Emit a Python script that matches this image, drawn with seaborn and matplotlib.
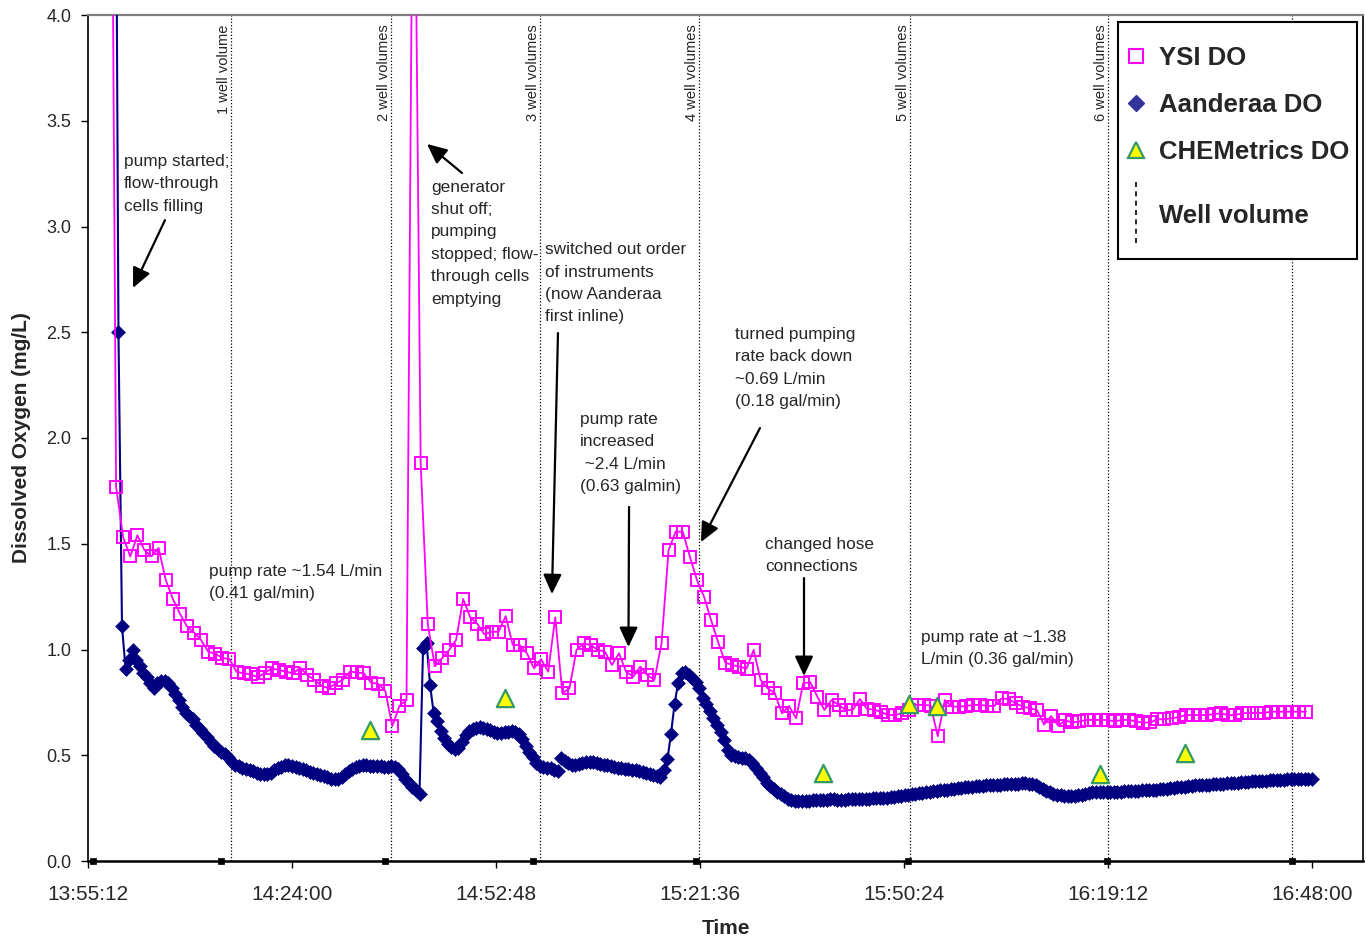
import numpy as np
import pandas as pd
import matplotlib
matplotlib.use("Agg")
import matplotlib.pyplot as plt
import matplotlib.dates as mdates
from matplotlib.lines import Line2D
from matplotlib.legend_handler import HandlerBase
import seaborn as sns

DAY = "2008-06-10 "

# YSI sonde dissolved oxygen, one reading per minute (mg/L)
ysi_start = "13:58:10"
ysi_do = [
    7.0, 1.77, 1.53, 1.44, 1.54, 1.47, 1.44, 1.48, 1.33, 1.24,
    1.17, 1.11, 1.08, 1.045, 0.99, 0.98, 0.96, 0.955, 0.895, 0.887,
    0.883, 0.868, 0.89, 0.911, 0.903, 0.895, 0.887, 0.914, 0.879, 0.856,
    0.829, 0.816, 0.84, 0.856, 0.895, 0.892, 0.887, 0.843, 0.838, 0.804,
    0.638, 0.734, 0.76, 5.4, 1.88, 1.12, 0.92, 0.958, 0.997, 1.045,
    1.239, 1.152, 1.121, 1.072, 1.084, 1.084, 1.158, 1.021, 1.021, 0.982,
    0.911, 0.954, 0.895, 1.152, 0.793, 0.816, 0.998, 1.029, 1.021, 0.998,
    0.99, 0.927, 0.982, 0.895, 0.871, 0.919, 0.879, 0.856, 1.029, 1.47,
    1.557, 1.557, 1.439, 1.329, 1.25, 1.139, 1.034, 0.938, 0.927, 0.919,
    0.91, 0.998, 0.856, 0.816, 0.793, 0.698, 0.733, 0.675, 0.84, 0.845,
    0.777, 0.714, 0.761, 0.738, 0.714, 0.714, 0.766, 0.719, 0.716, 0.705,
    0.69, 0.69, 0.70, 0.714, 0.738, 0.738, 0.735, 0.59, 0.761, 0.73,
    0.73, 0.733, 0.738, 0.738, 0.733, 0.733, 0.769, 0.765, 0.745, 0.73,
    0.722, 0.714, 0.645, 0.685, 0.64, 0.665, 0.655, 0.66, 0.667, 0.667,
    0.667, 0.667, 0.66, 0.667, 0.667, 0.66, 0.654, 0.655, 0.67, 0.67,
    0.675, 0.68, 0.69, 0.69, 0.69, 0.69, 0.695, 0.698, 0.69, 0.69,
    0.698, 0.70, 0.70, 0.70, 0.706, 0.706, 0.706, 0.706, 0.706, 0.706,
]

# Aanderaa optode dissolved oxygen, one reading every 30 s, two logging runs
aanderaa_run1_start = "13:59:00"
aanderaa_run1 = [
    5.8, 2.50, 1.11, 0.91, 0.95, 1.00, 0.95, 0.92, 0.89, 0.87,
    0.84, 0.82, 0.84, 0.85, 0.85, 0.84, 0.82, 0.79, 0.76, 0.73,
    0.70, 0.685, 0.67, 0.645, 0.625, 0.605, 0.585, 0.565, 0.545, 0.53,
    0.515, 0.505, 0.49, 0.47, 0.455, 0.447, 0.44, 0.435, 0.43, 0.425,
    0.415, 0.41, 0.41, 0.41, 0.415, 0.43, 0.44, 0.445, 0.452, 0.452,
    0.45, 0.446, 0.44, 0.435, 0.43, 0.42, 0.415, 0.41, 0.405, 0.40,
    0.395, 0.39, 0.39, 0.39, 0.395, 0.41, 0.425, 0.435, 0.445, 0.45,
    0.452, 0.454, 0.45, 0.45, 0.448, 0.448, 0.445, 0.445, 0.447, 0.446,
    0.435, 0.41, 0.39, 0.37, 0.35, 0.335, 0.315, 1.005, 1.03, 0.83,
    0.70, 0.66, 0.615, 0.58, 0.555, 0.54, 0.53, 0.535, 0.565, 0.595,
    0.615, 0.625, 0.63, 0.632, 0.628, 0.622, 0.618, 0.612, 0.605, 0.605,
    0.61, 0.612, 0.615, 0.61, 0.60, 0.575, 0.545, 0.515, 0.49, 0.465,
    0.45, 0.445, 0.442, 0.438, 0.432, 0.425,
]
aanderaa_run2_start = "15:02:00"
aanderaa_run2 = [
    0.485, 0.475, 0.465, 0.455, 0.452, 0.458, 0.462, 0.466, 0.468, 0.468,
    0.465, 0.46, 0.456, 0.452, 0.448, 0.445, 0.44, 0.438, 0.436, 0.434,
    0.432, 0.43, 0.425, 0.42, 0.415, 0.41, 0.405, 0.40, 0.398, 0.43,
    0.48, 0.60, 0.74, 0.84, 0.89, 0.895, 0.88, 0.865, 0.845, 0.82,
    0.77, 0.74, 0.71, 0.675, 0.645, 0.61, 0.57, 0.525, 0.50, 0.495,
    0.49, 0.488, 0.485, 0.478, 0.465, 0.44, 0.415, 0.395, 0.37, 0.355,
    0.34, 0.325, 0.315, 0.305, 0.295, 0.288, 0.285, 0.283, 0.283, 0.284,
    0.285, 0.287, 0.288, 0.29,
    0.29, 0.29, 0.292, 0.292, 0.29, 0.29, 0.29, 0.291, 0.292, 0.293,
    0.293, 0.294, 0.294, 0.295, 0.296, 0.297, 0.298, 0.30, 0.30, 0.302,
    0.303, 0.305, 0.307, 0.31, 0.312, 0.315, 0.318, 0.32, 0.322, 0.325,
    0.327, 0.33, 0.332, 0.334, 0.336, 0.338, 0.34, 0.342, 0.344, 0.346,
    0.348, 0.35, 0.351, 0.353, 0.355, 0.356, 0.357, 0.358, 0.359, 0.36,
    0.361, 0.362, 0.363, 0.364, 0.365, 0.366, 0.367, 0.367, 0.366, 0.364,
    0.36, 0.352, 0.342, 0.333, 0.325, 0.318, 0.313, 0.31, 0.308, 0.307,
    0.307, 0.308, 0.31, 0.313, 0.318, 0.322, 0.325, 0.326, 0.326, 0.327,
    0.327, 0.327, 0.327, 0.328, 0.328, 0.329, 0.33, 0.331, 0.332, 0.333,
    0.334, 0.335, 0.336, 0.337, 0.338, 0.339, 0.34, 0.342, 0.344, 0.346,
    0.348, 0.35, 0.352, 0.354, 0.356, 0.357, 0.358, 0.359, 0.36, 0.361,
    0.362, 0.363, 0.364, 0.366, 0.367, 0.368, 0.369, 0.37, 0.372, 0.373,
    0.375, 0.376, 0.377, 0.378, 0.379, 0.38, 0.381, 0.382, 0.383, 0.384,
    0.385, 0.386, 0.386, 0.387, 0.387, 0.388, 0.388, 0.389, 0.389,
]

# CHEMetrics colorimetric spot checks
chem_times = ["14:35:01", "14:54:04", "15:39:00", "15:51:06", "15:55:06", "16:18:04", "16:30:04"]
chem_do = [0.62, 0.77, 0.415, 0.74, 0.735, 0.41, 0.51]

# purged well volumes (the last marker line sits behind the legend, unlabelled)
well_vol_times = ["14:15:23", "14:37:59", "14:59:01", "15:21:28", "15:51:15", "16:19:12", "16:45:11"]
well_vol_labels = ["1 well volume", "2 well volumes", "3 well volumes", "4 well volumes",
                   "5 well volumes", "6 well volumes"]
well_mark_times = ["13:55:54", "14:13:59", "14:37:08", "14:58:01", "15:21:02",
                   "15:50:58", "16:19:04", "16:45:11"]
well_mark_do = [0.0, 0.0, 0.0, 0.0, 0.0, 0.0, 0.0, 0.0]

x_tick_labels = ["13:55:12", "14:24:00", "14:52:48", "15:21:36", "15:50:24", "16:19:12", "16:48:00"]
x_range = ["13:55:12", "16:55:12"]
y_ticks = [0.0, 0.5, 1.0, 1.5, 2.0, 2.5, 3.0, 3.5, 4.0]

# field notes: (text, time, DO at top of text)
notes_text = [
    "pump started;\nflow-through\ncells filling",
    "generator\nshut off;\npumping\nstopped; flow-\nthrough cells\nemptying",
    "switched out order\nof instruments\n(now Aanderaa\nfirst inline)",
    "pump rate\nincreased\n ~2.4 L/min\n(0.63 galmin)",
    "turned pumping\nrate back down\n~0.69 L/min\n(0.18 gal/min)",
    "pump rate ~1.54 L/min\n(0.41 gal/min)",
    "changed hose\nconnections",
    "pump rate at ~1.38\nL/min (0.36 gal/min)",
]
notes_time = ["14:00:17", "14:43:37", "14:59:43", "15:04:40", "15:26:32", "14:12:17", "15:30:47", "15:52:48"]
notes_do = [3.343, 3.222, 2.926, 2.124, 2.526, 1.404, 1.533, 1.093]

# arrows: tail (time, DO) -> head (time, DO)
arrow_tail_time = ["14:06:04", "14:48:00", "15:01:33", "15:11:35", "15:30:04", "15:36:17"]
arrow_tail_do = [3.03, 3.253, 2.496, 1.674, 2.047, 1.338]
arrow_head_time = ["14:01:33", "14:43:04", "15:00:42", "15:11:30", "15:21:44", "15:36:17"]
arrow_head_do = [2.71, 3.39, 1.262, 1.012, 1.508, 0.875]


def ts(hms):
    return pd.Timestamp(DAY + hms)


def dn(hms):
    return mdates.date2num(ts(hms))


def series_frame(start, values, step_s):
    t = ts(start) + pd.to_timedelta(np.arange(len(values)) * step_s, unit="s")
    return pd.DataFrame({"time": t, "do": values})


ysi_df = series_frame(ysi_start, ysi_do, 60)
run1 = series_frame(aanderaa_run1_start, aanderaa_run1, 30).assign(run=1)
run2 = series_frame(aanderaa_run2_start, aanderaa_run2, 30).assign(run=2)
aand_df = pd.concat([run1, run2], ignore_index=True)
chem_df = pd.DataFrame({"time": [ts(t) for t in chem_times], "do": chem_do})
mark_df = pd.DataFrame({"time": [ts(t) for t in well_mark_times], "do": well_mark_do})

sns.set_style("white")
plt.rcParams["font.family"] = ["Liberation Sans", "DejaVu Sans"]

W, H = 1366, 941
fig = plt.figure(figsize=(W / 100, H / 100), dpi=100)
ax = fig.add_axes([88 / W, 1 - 861 / H, 1275 / W, 846 / H])

NAVY = "#000080"
MAGENTA = "#FF00FF"

sns.lineplot(data=aand_df, x="time", y="do", units="run", estimator=None, ax=ax,
             color=NAVY, linewidth=1.5, marker="D", markersize=7.2,
             markeredgecolor=NAVY, markeredgewidth=0.4, legend=False, zorder=3)
sns.lineplot(data=ysi_df, x="time", y="do", ax=ax, estimator=None,
             color=MAGENTA, linewidth=1.3, marker="s", markersize=8,
             markerfacecolor="none", markeredgecolor=MAGENTA, markeredgewidth=1.4,
             legend=False, zorder=4)
sns.scatterplot(data=chem_df, x="time", y="do", ax=ax, marker="^", s=155,
                color="#FFFF00", edgecolor="#339966", linewidth=1.6, zorder=5, legend=False)
sns.scatterplot(data=mark_df, x="time", y="do", ax=ax, marker="s", s=16,
                color="black", edgecolor="black", linewidth=0.5, zorder=6,
                clip_on=False, legend=False)

for t in well_vol_times:
    ax.axvline(dn(t), color="black", linewidth=0.9, linestyle=(0, (1, 1.6)), zorder=1)
for t, lab in zip(well_vol_times, well_vol_labels):
    ax.text(dn(t), 3.955, lab, rotation=90, ha="right", va="top", fontsize=10.5, zorder=2)

for txt, t, v in zip(notes_text, notes_time, notes_do):
    ax.text(dn(t), v, txt, ha="left", va="top", fontsize=12.4, linespacing=1.62, zorder=2)

for tt, tv, ht, hv in zip(arrow_tail_time, arrow_tail_do, arrow_head_time, arrow_head_do):
    ax.annotate("", xy=(dn(ht), hv), xytext=(dn(tt), tv),
                arrowprops=dict(arrowstyle="-|>,head_length=0.75,head_width=0.35",
                                color="black", lw=1.6, shrinkA=0, shrinkB=0,
                                mutation_scale=16), zorder=2)

ax.set_xlim(ts(x_range[0]), ts(x_range[1]))
ax.set_ylim(0, 4)
ax.set_xticks([ts(t) for t in x_tick_labels])
ax.set_xticklabels(x_tick_labels)
ax.set_yticks(y_ticks)
ax.set_yticklabels([f"{v:.1f}" for v in y_ticks])
ax.tick_params(axis="both", direction="out", length=5, width=1, color="black",
               left=True, bottom=True)
ax.tick_params(axis="x", labelsize=15, pad=12)
ax.tick_params(axis="y", labelsize=13, pad=7)

for side in ["left", "right", "bottom"]:
    ax.spines[side].set_color("black")
    ax.spines[side].set_linewidth(1.2)
ax.spines["bottom"].set_linewidth(1.8)
ax.spines["top"].set_color("#7f7f7f")
ax.spines["top"].set_linewidth(1.6)

ax.set_xlabel("Time", fontsize=15, fontweight="bold")
ax.set_ylabel("Dissolved Oxygen (mg/L)", fontsize=15, fontweight="bold")
ax.xaxis.set_label_coords(0.5, -0.069)
ax.yaxis.set_label_coords(-0.045, 0.5)


class VerticalDashHandler(HandlerBase):
    """Legend key drawn as a tall vertical dashed line."""

    def create_artists(self, legend, orig_handle, xdescent, ydescent, width, height,
                       fontsize, trans):
        x = width / 2 - xdescent
        yc = (height - ydescent) / 2 + 1.0
        line = Line2D([x, x], [yc - 22.0, yc + 22.0], color="black",
                      linewidth=1.2, linestyle=(0, (3, 2.6)))
        line.set_transform(trans)
        return [line]


well_handle = Line2D([], [], color="black", linestyle="--")
handles = [
    Line2D([], [], linestyle="none", marker="s", markersize=10, markerfacecolor="white",
           markeredgecolor=MAGENTA, markeredgewidth=1.5),
    Line2D([], [], linestyle="none", marker="D", markersize=8, color="#333399"),
    Line2D([], [], linestyle="none", marker="^", markersize=11, markerfacecolor="#FFFF00",
           markeredgecolor="#339966", markeredgewidth=1.6),
    well_handle,
]
labels = ["YSI DO", "Aanderaa DO", "CHEMetrics DO", "Well volume"]
leg = ax.legend(handles, labels, loc="upper right",
                bbox_to_anchor=((1357 - 88) / 1275, (861 - 22) / 846),
                borderaxespad=0, frameon=True, fancybox=False, shadow=False,
                prop={"weight": "bold", "size": 18.5}, handlelength=0.78,
                handletextpad=0.5, borderpad=0.31, labelspacing=0.9,
                handler_map={well_handle: VerticalDashHandler()})
leg.get_frame().set_edgecolor("black")
leg.get_frame().set_linewidth(1.5)
leg.get_frame().set_alpha(1)
leg.set_zorder(10)

# extra room above the first key and around the tall well-volume key
try:
    rows = leg._legend_handle_box.get_children()[0].get_children()
    rows[0].get_children()[0].height += 12.0
    last_key = rows[-1].get_children()[0]
    last_key.height += 13.0 + 20.5
    last_key.ydescent += 20.5
except Exception:
    pass

fig.savefig("out.png", dpi=100)
